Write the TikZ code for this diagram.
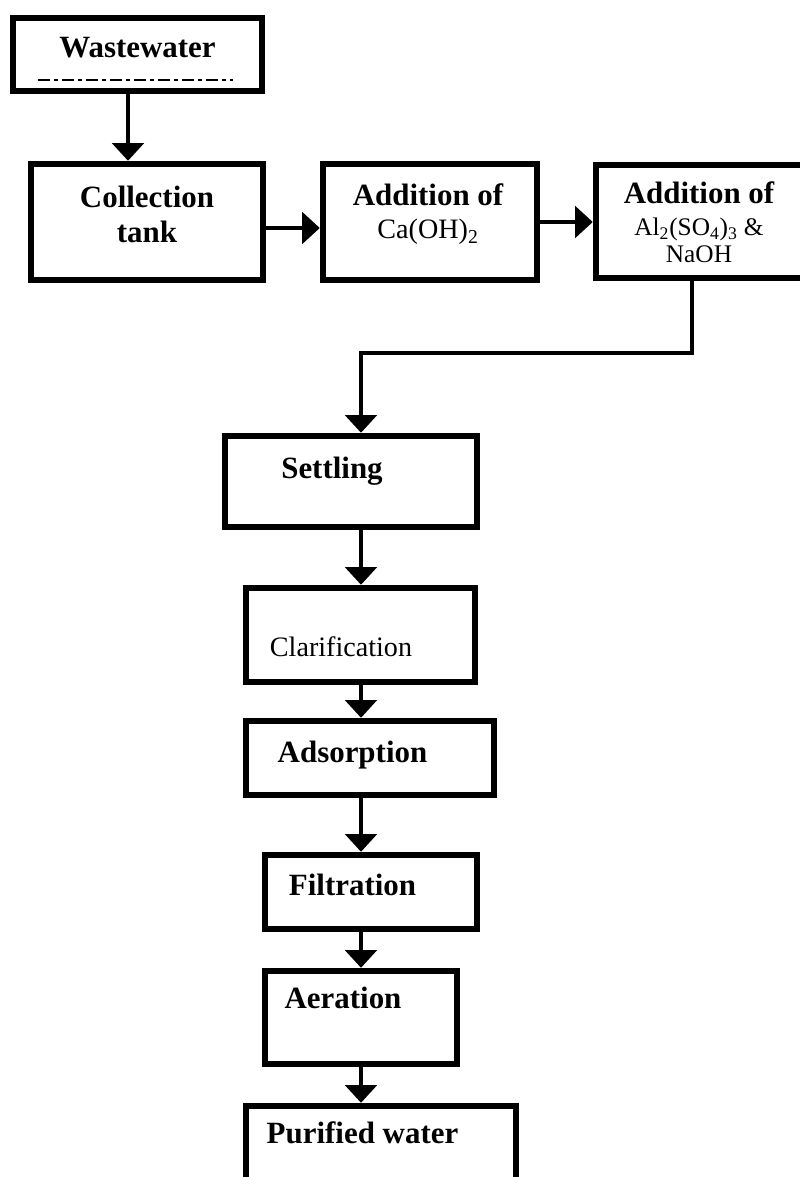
\documentclass[tikz,border=0pt]{standalone}
\usepackage{fontspec}
\setmainfont{Liberation Serif}
\usetikzlibrary{arrows.meta}

\newcommand\reagent{\mdseries\fontsize{20}{23}\selectfont}
\newcommand\reagentsm{\mdseries\fontsize{18}{21}\selectfont}

\begin{document}
\begin{tikzpicture}[x=0.025cm, y=-0.025cm,
    box/.style 2 args={draw, line width=0.16cm, inner sep=0pt, minimum width=#1*0.025cm, minimum height=#2*0.025cm},
    lbl/.style={inner sep=0pt, align=center, font=\bfseries\fontsize{22}{25}\selectfont},
    arr/.style={-{Triangle[width=0.78cm, length=0.44cm]}, line width=0.1cm}
]
\useasboundingbox (0,0) rectangle (800,1177);

% boxes
\node[box={249}{73}] (waste) at (137.5,54.5) {};
\node[box={232}{116}] (coll) at (147,222) {};
\node[box={214}{116}] (caoh) at (430,222) {};
\node[box={207}{113}] (alum) at (699.5,221.5) {};
\node[box={252}{91}] (settle) at (351,481.5) {};
\node[box={229}{94}] (clar) at (360.5,635) {};
\node[box={248}{74}] (adsorp) at (370,758) {};
\node[box={212}{74}] (filt) at (371,892) {};
\node[box={192}{93}] (aer) at (361,1017.5) {};
\node[box={270}{76}] (pur) at (381,1144) {};

% texts
\node[lbl] (wasteT) at (137.5,48) {Wastewater};
\draw[line width=0.04cm, dash pattern=on 0.3cm off 0.1cm on 0.1cm off 0.1cm] (38,80) -- (233,80);
\node[lbl] (collT) at (147,214) {Collection\\tank};
\node[lbl] (caohT) at (428,214) {Addition of\\[-1pt]{\reagent Ca(OH)\textsubscript{2}}};
\node[lbl] (alumT) at (699,222) {Addition of\\[-2pt]{\reagentsm Al\textsubscript{2}(SO\textsubscript{4})\textsubscript{3} \&}\\[-6pt]{\reagentsm NaOH}};
\node[lbl] (settleT) at (332,471) {Settling};
\node[lbl, font=\fontsize{20}{23}\selectfont] (clarT) at (341,646.5) {Clarification};
\node[lbl] (adsorpT) at (352.5,755) {Adsorption};
\node[lbl] (filtT) at (352.5,885) {Filtration};
\node[lbl] (aerT) at (343,998) {Aeration};
\node[lbl] (purT) at (362.5,1133) {Purified water};

% connectors
\coordinate (wdrop) at (128,0);
\coordinate (row1) at (0,228);
\coordinate (row2) at (0,222);
\coordinate (adrop) at (692,353);
\coordinate (spine) at (361,0);
\draw[arr] (waste.south -| wdrop) -- (coll.north -| wdrop);
\draw[arr] (coll.east |- row1) -- (caoh.west |- row1);
\draw[arr] (caoh.east |- row2) -- (alum.west |- row2);
\draw[arr] (alum.south -| adrop) -- (adrop) -| (settle.north -| spine);
\foreach \a/\b in {settle/clar, clar/adsorp, adsorp/filt, filt/aer, aer/pur}
    \draw[arr] (\a.south -| spine) -- (\b.north -| spine);
\end{tikzpicture}
\end{document}
